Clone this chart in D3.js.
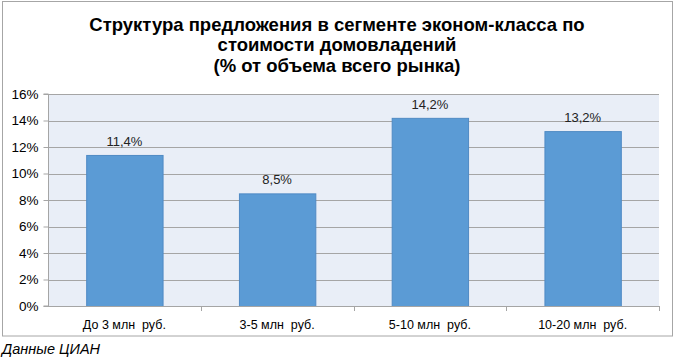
<!DOCTYPE html>
<html>
<head>
<meta charset="utf-8">
<script src="https://cdn.jsdelivr.net/npm/d3@7"></script>
<style>
body { margin: 0; background: #fff; }
svg { display: block; font-family: "Liberation Sans", Arial, sans-serif; }
</style>
</head>
<body>
<div id="chart"></div>
<script>
const categories = ["До 3 млн  руб.", "3-5 млн  руб.", "5-10 млн  руб.", "10-20 млн  руб."];
const values = [11.4, 8.5, 14.2, 13.2];
const y_ticks = [0, 2, 4, 6, 8, 10, 12, 14, 16];
const title_lines = ["Структура предложения в сегменте эконом-класса по", "стоимости домовладений", "(% от объема всего рынка)"];
const source_text = "Данные ЦИАН";

const width = 675, height = 363;
const plot = {left: 48, right: 659, top: 94, bottom: 306};

let svg = d3.select("#chart").append("svg").attr("width", width).attr("height", height);

// outer frame
svg.append("rect").attr("x", 2.5).attr("y", 1.5).attr("width", 670).attr("height", 334.5)
	.attr("fill", "#fff").attr("stroke", "#a6a6a6").attr("stroke-width", 1);

// title
svg.append("g").selectAll("text").data(title_lines).enter().append("text")
	.attr("x", 337).attr("y", (d, i) => 30.5 + i * 20.7)
	.attr("text-anchor", "middle")
	.attr("font-size", 18.5).attr("font-weight", "bold").attr("fill", "#000")
	.text(d => d);

let x = d3.scaleBand().domain(categories).range([plot.left, plot.right]).paddingInner(0.5).paddingOuter(0.25);
let xTicks = d3.scaleBand().domain(categories).range([plot.left, plot.right]);
let y = d3.scaleLinear().domain([0, 16]).range([plot.bottom, plot.top]);

// plot background
svg.append("rect").attr("x", plot.left).attr("y", plot.top)
	.attr("width", plot.right - plot.left).attr("height", plot.bottom - plot.top)
	.attr("fill", "#e9eef7");

// gridlines
svg.append("g").selectAll("line").data(y_ticks.slice(1)).enter().append("line")
	.attr("x1", plot.left).attr("x2", plot.right)
	.attr("y1", d => Math.round(y(d)) + 0.5).attr("y2", d => Math.round(y(d)) + 0.5)
	.attr("stroke", "#a5a5a5");

// y axis
let yaxis = svg.append("g").attr("transform", `translate(${plot.left + 0.5},0)`)
	.call(d3.axisLeft(y).tickValues(y_ticks).tickSize(5).tickPadding(5).tickFormat(d => d + "%"));
yaxis.select(".domain").attr("stroke", "#a5a5a5").attr("d", `M-5,${plot.top}H0V${plot.bottom}H-5`);
yaxis.selectAll(".tick line").attr("stroke", "#a5a5a5");
yaxis.selectAll("text").attr("font-size", 13.5).attr("fill", "#000").attr("font-family", "Liberation Sans, Arial, sans-serif");

// bars
svg.append("g").selectAll("rect").data(values).enter().append("rect")
	.attr("x", (d, i) => x(categories[i]) + 0.5)
	.attr("y", d => y(d) + 0.5)
	.attr("width", x.bandwidth())
	.attr("height", d => plot.bottom - y(d))
	.attr("fill", "#5b9bd5").attr("stroke", "#4f8ac4").attr("stroke-width", 1);

// value labels
svg.append("g").selectAll("text").data(values).enter().append("text")
	.attr("x", (d, i) => x(categories[i]) + x.bandwidth() / 2)
	.attr("y", d => y(d) - 9)
	.attr("text-anchor", "middle").attr("font-size", 13).attr("fill", "#222")
	.text(d => d.toFixed(1).replace(".", ",") + "%");

// x axis
let xaxis = svg.append("g").attr("transform", `translate(0,${plot.bottom + 0.5})`)
	.call(d3.axisBottom(xTicks).tickSize(0).tickPadding(14));
xaxis.select(".domain").attr("stroke", "#a5a5a5").attr("d", `M${plot.left},0H${plot.right}`);
xaxis.selectAll("text").attr("font-size", 12.5).attr("fill", "#000").attr("font-family", "Liberation Sans, Arial, sans-serif")
	.style("white-space", "pre");
// category separators
svg.append("g").selectAll("line").data(categories).enter().append("line")
	.attr("x1", d => Math.round(xTicks(d) + xTicks.bandwidth()) + 0.5)
	.attr("x2", d => Math.round(xTicks(d) + xTicks.bandwidth()) + 0.5)
	.attr("y1", plot.bottom).attr("y2", plot.bottom + 5)
	.attr("stroke", "#a5a5a5");

// source
svg.append("text").attr("x", 2).attr("y", 354)
	.attr("font-size", 14.5).attr("font-style", "italic").attr("fill", "#000")
	.text(source_text);
</script>
</body>
</html>
